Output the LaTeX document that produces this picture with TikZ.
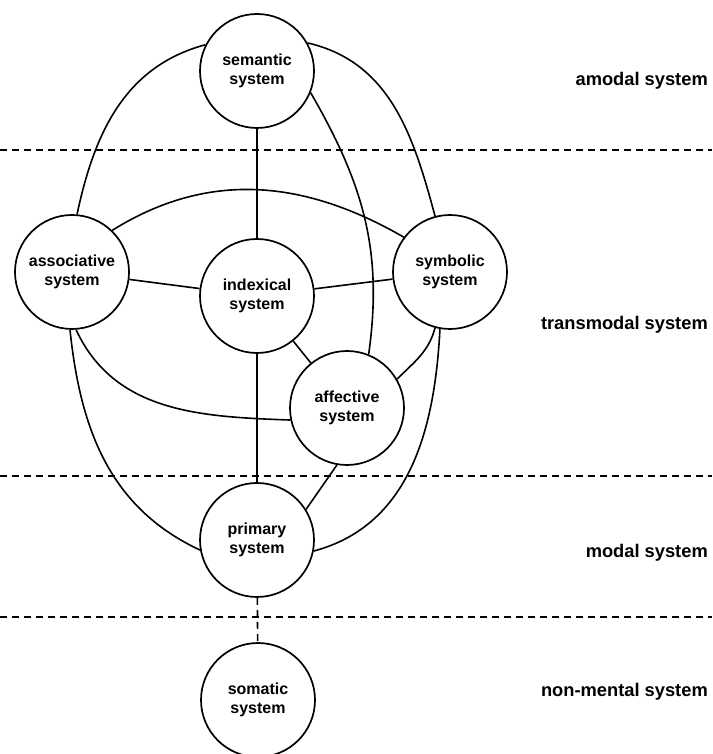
\documentclass[tikz,border=0pt]{standalone}
\usepackage{fontspec}
\setmainfont{Liberation Sans}
\begin{document}
\begin{tikzpicture}[x=1pt,y=1pt,
  sys/.style={draw, circle, line width=1.7pt, minimum size=114pt, inner sep=0pt, align=center,
    font=\fontsize{16}{19.5}\selectfont\bfseries, fill=white},
  lvl/.style={anchor=east, inner sep=0pt, font=\fontsize{18.3}{22}\selectfont\bfseries},
  conn/.style={line width=1.6pt},
  sep/.style={line width=1.7pt, dash pattern=on 7pt off 5pt}]
\useasboundingbox (0,0) rectangle (712,754);
% separators
\coordinate (s1l) at (0,604); \coordinate (s1r) at (712,604);
\coordinate (s2l) at (0,278); \coordinate (s2r) at (712,278);
\coordinate (s3l) at (0,137); \coordinate (s3r) at (712,137);
\draw[sep] (s1l) -- (s1r);
\draw[sep] (s2l) -- (s2r);
\draw[sep] (s3l) -- (s3r);
% nodes
\node[sys] (sem) at (257,683) {semantic\\system};
\node[sys] (ass) at (72,482) {associative\\system};
\node[sys] (ind) at (257,458) {indexical\\system};
\node[sys] (sym) at (450,482) {symbolic\\system};
\node[sys] (aff) at (347,346) {affective\\system};
\node[sys] (pri) at (257,214) {primary\\system};
\node[sys] (som) at (258,54) {somatic\\system};
% level labels
\node[lvl] (l1) at (708,673) {amodal system};
\node[lvl] (l2) at (708,429) {transmodal system};
\node[lvl] (l3) at (708,201) {modal system};
\node[lvl] (l4) at (708,62) {non-mental system};
% connectors
\draw[conn] (sem) -- (ind);
\draw[conn] (ind) -- (pri);
\draw[conn] (ass) -- (ind);
\draw[conn] (ind) -- (sym);
\draw[conn] (ind) -- (aff);
\draw[conn] (aff.260) -- (pri.32);
\draw[conn] (sem.153) to[out=195,in=78] (ass.85);
\draw[conn] (sem.29) to[out=-13,in=105] (sym.105);
\draw[conn] (sem.-22) to[out=-60,in=82] (aff.68);
\draw[conn] (ass.46) to[out=32,in=150] (sym.143);
\draw[conn] (ass.-86) to[out=-65,in=178] (aff.192);
\draw[conn] (sym.-105) to[out=-105,in=45] (aff.30);
\draw[conn] (sym.-100) to[out=-93,in=15] (pri.-11);
\draw[conn] (ass.-92) to[out=-84,in=155] (pri.190);
\draw[conn, dash pattern=on 7pt off 5pt] (pri) -- (som);
\end{tikzpicture}
\end{document}
